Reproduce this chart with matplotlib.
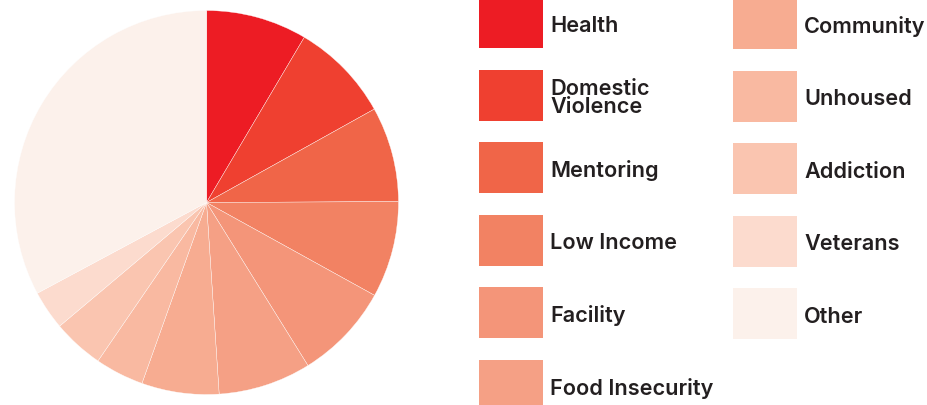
import matplotlib.pyplot as plt
from matplotlib.patches import Rectangle

# categories and their share (in percent)
labels = ["Health", "Domestic\nViolence", "Mentoring", "Low Income", "Facility",
          "Food Insecurity", "Community", "Unhoused", "Addiction", "Veterans", "Other"]
shares = [8.5, 8.4, 8.0, 8.1, 8.1, 7.8, 6.5, 4.1, 4.3, 3.3, 32.8]
colors = ["#ED1C24", "#EF4030", "#F06548", "#F28263", "#F49579", "#F5A085",
          "#F7AC91", "#F9B9A1", "#FAC5B0", "#FCDBCE", "#FCF1EB"]

plt.rcParams["font.family"] = ["Inter", "DejaVu Sans"]

fig = plt.figure(figsize=(9.28, 4.06), dpi=100)
ax = fig.add_axes([0, 0, 1, 1])

ax.pie(shares, colors=colors, startangle=90, counterclock=False,
       center=(206.5, 202.5), radius=192,
       wedgeprops=dict(linewidth=0.25, edgecolor="#FFFFFF"))

#Pixel-like coords so the legend lines up
ax.set_xlim(0, 928)
ax.set_ylim(0, 406)
ax.set_aspect("equal")
ax.axis("off")

#Legend in two columns (6 + 5)
for i, (lab, col) in enumerate(zip(labels, colors)):
    c, r = divmod(i, 6)
    x0 = 479 + c * 254
    yc = 406 - (23.5 + c * 1 + r * 72.6)
    ax.add_patch(Rectangle((x0, yc - 25.5), 64, 51, facecolor=col, edgecolor="none"))
    ax.text(x0 + 71, yc - 2, lab, fontsize=15.6, fontweight="semibold", color="#231F20",
            va="center", ha="left", linespacing=0.9)

fig.savefig("out.png", dpi=100)
